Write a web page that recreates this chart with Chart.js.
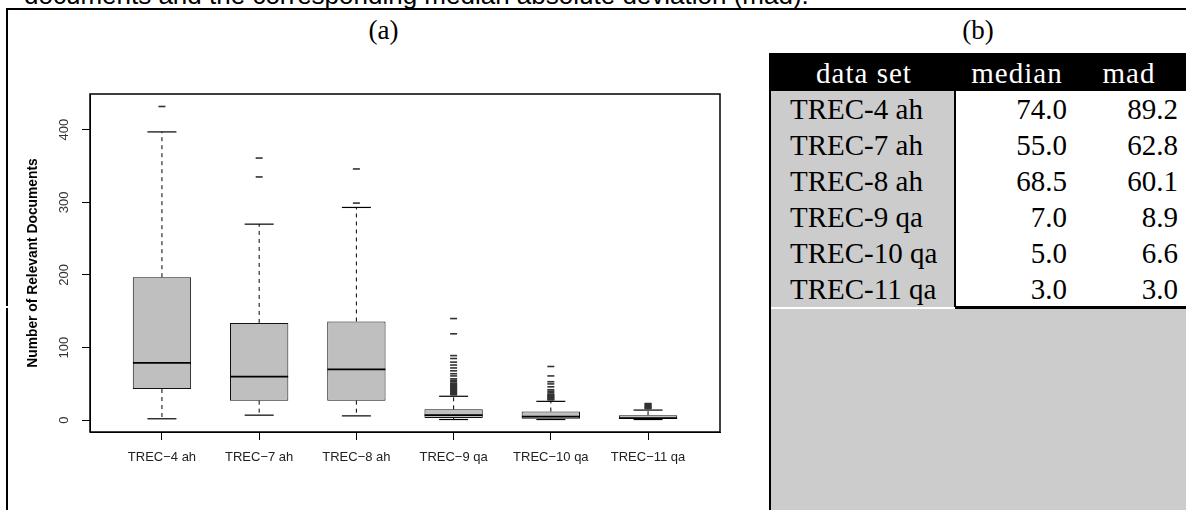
<!DOCTYPE html>
<html>
<head>
<meta charset="utf-8">
<script src="https://cdn.jsdelivr.net/npm/chart.js@4/dist/chart.umd.min.js"></script>
<style>
  html, body { margin:0; padding:0; background:#fff; }
  body { width:1186px; height:510px; position:relative; overflow:hidden; }
  .abs { position:absolute; }
  .serif { font-family:"Liberation Serif", "DejaVu Serif", serif; }
  #caption { left:24px; top:-20px; font-family:"Liberation Sans", Arial, sans-serif; font-size:26px; line-height:30px; white-space:nowrap; color:#000; }
  .cell { position:absolute; height:36px; line-height:36px; font-size:29px; white-space:nowrap; }
</style>
</head>
<body>
<script>
// ---------- data ----------
const categories   = ['TREC\u22124 ah', 'TREC\u22127 ah', 'TREC\u22128 ah', 'TREC\u22129 qa', 'TREC\u221210 qa', 'TREC\u221211 qa'];
const whiskerLow   = [2, 7, 6, 1, 1, 1];
const quartile1    = [43, 27, 27, 3, 2, 2];
const medians      = [79, 60, 70, 7, 5, 3];
const quartile3    = [197, 134, 136, 15, 12, 7];
const whiskerHigh  = [397, 270, 293, 33, 26, 14];
const outliers4    = [432];
const outliers7    = [335, 361];
const outliers8    = [299, 346];
const outliers9    = [35, 36, 37, 38, 39, 40, 41, 42, 43, 44, 45, 46, 47, 48, 49, 50, 51, 53, 55, 57, 61, 64, 68, 72, 76, 80, 85, 89, 119, 140];
const outliers10   = [28, 29, 30, 31, 32, 33, 34, 35, 36, 38, 40, 42, 46, 50, 53, 61, 74];
const outliers11   = [16, 17, 18, 19, 20, 21, 22, 23];
const yTicks       = [0, 100, 200, 300, 400];
const yAxisTitle   = 'Number of Relevant Documents';

const tableHeader  = ['data set', 'median', 'mad'];
const tableSets    = ['TREC-4 ah', 'TREC-7 ah', 'TREC-8 ah', 'TREC-9 qa', 'TREC-10 qa', 'TREC-11 qa'];
const tableMedian  = ['74.0', '55.0', '68.5', '7.0', '5.0', '3.0'];
const tableMad     = ['89.2', '62.8', '60.1', '8.9', '6.6', '3.0'];
const captionText  = 'documents and the corresponding median absolute deviation (mad).';
</script>

<div id="caption" class="abs"></div>
<!-- rules -->
<div class="abs" style="left:6px;top:8px;width:1180px;height:2px;background:#000"></div>
<div class="abs" style="left:6px;top:8px;width:2px;height:502px;background:#000"></div>
<div class="abs" style="left:6px;top:306px;width:2px;height:2px;background:#fff"></div>
<div class="abs serif" style="left:7px;width:753px;top:14px;text-align:center;font-size:27px;line-height:32px">(a)</div>
<div class="abs serif" style="left:770px;width:416px;top:14px;text-align:center;font-size:27px;line-height:32px">(b)</div>

<canvas id="c" width="760" height="510" class="abs" style="left:0;top:0;width:760px;height:510px"></canvas>

<!-- table (b) -->
<div id="tbl" class="serif"></div>

<script>
document.getElementById('caption').textContent = captionText;

// build table (b)
(function(){
  const tbl = document.getElementById('tbl');
  const add = (style, text, cls) => {
    const d = document.createElement('div');
    d.className = cls || 'abs';
    d.style.cssText = style;
    if (text !== undefined) d.textContent = text;
    tbl.appendChild(d);
    return d;
  };
  const top0 = 53, headH = 38, rowH = 36;
  const rowsTop = top0 + headH;
  add(`left:769px;top:${top0}px;width:417px;height:${headH}px;background:#000`);
  add(`left:771px;top:${rowsTop}px;width:184px;height:${rowH*tableSets.length}px;background:#cccccc`);
  const tblBottom = rowsTop + rowH*tableSets.length;
  add(`left:771px;top:${tblBottom+2}px;width:415px;height:${510-tblBottom-2}px;background:#cccccc`);
  add(`left:954px;top:${rowsTop}px;width:1.5px;height:${rowH*tableSets.length}px;background:#000`);
  add(`left:955px;top:${tblBottom-1}px;width:231px;height:2.5px;background:#000`);
  add(`left:769px;top:${top0}px;width:2px;height:${510-top0}px;background:#000`);
  const hc = [864, 1017, 1129];
  tableHeader.forEach((t,i)=>{
    add(`left:${hc[i]-100}px;width:200px;top:${top0+1}px;text-align:center;color:#fff;line-height:${headH}px;letter-spacing:1px`, t, 'cell');
  });
  tableSets.forEach((t,i)=>{
    const y = rowsTop + i*rowH;
    add(`left:790px;top:${y}px;color:#000`, t, 'cell');
    add(`left:${1067-150}px;width:150px;top:${y}px;text-align:right;color:#000`, tableMedian[i], 'cell');
    add(`left:${1178-150}px;width:150px;top:${y}px;text-align:right;color:#000`, tableMad[i], 'cell');
  });
})();

// ---------- chart (a) ----------
const outlierSets = [outliers4, outliers7, outliers8, outliers9, outliers10, outliers11];
const xs = categories.map((c,i)=>i+1);

const boxData = xs.map((x,i)=>({x:x, y:[quartile1[i], quartile3[i]]}));
const whiskerData = [];
xs.forEach((x,i)=>{
  whiskerData.push({x:x, y:quartile3[i]}, {x:x, y:whiskerHigh[i]}, {x:x, y:null});
  whiskerData.push({x:x, y:quartile1[i]}, {x:x, y:whiskerLow[i]}, {x:x, y:null});
});
const capData = [];
xs.forEach((x,i)=>{ capData.push({x:x, y:whiskerLow[i]}, {x:x, y:whiskerHigh[i]}); });
const medianData = xs.map((x,i)=>({x:x, y:medians[i]}));
const outlierData = [];
xs.forEach((x,i)=>{ outlierSets[i].forEach(v=>outlierData.push({x:x, y:v})); });

const framePlugin = {
  id:'frame',
  afterDraw(chart){
    const {ctx, chartArea:a} = chart;
    ctx.save();
    ctx.strokeStyle = '#000';
    ctx.lineWidth = 1.5;
    ctx.strokeRect(a.left, a.top, a.right - a.left, a.bottom - a.top);
    ctx.restore();
  }
};

Chart.defaults.font.family = '"Liberation Sans", Arial, sans-serif';
Chart.defaults.color = '#222';

new Chart(document.getElementById('c'), {
  type:'bar',
  data:{
    datasets:[
      { type:'bar', data:boxData, backgroundColor:'#bfbfbf', borderColor:'#111', borderWidth:1,
        borderSkipped:false, barPercentage:0.6, categoryPercentage:1, order:5 },
      { type:'line', data:whiskerData, borderColor:'#000', borderWidth:1, borderDash:[4,4],
        pointRadius:0, spanGaps:false, fill:false, order:4 },
      { type:'scatter', data:capData, pointStyle:'line', pointRadius:14.5, borderColor:'#000',
        borderWidth:1.2, order:3 },
      { type:'scatter', data:outlierData, pointStyle:'line', pointRadius:3.5, borderColor:'#333',
        borderWidth:1.6, order:2 },
      { type:'scatter', data:medianData, pointStyle:'line', pointRadius:29, borderColor:'#000',
        borderWidth:1.7, order:1 }
    ]
  },
  options:{
    responsive:false,
    animation:false,
    devicePixelRatio:1,
    events:[],
    layout:{ padding:{ left:0, top:94, right:40, bottom:0 } },
    plugins:{ legend:{display:false}, tooltip:{enabled:false} },
    scales:{
      x:{
        type:'linear', min:0.26, max:6.74, offset:false,
        grid:{ display:true, drawOnChartArea:false, drawTicks:true, tickLength:8, color:'#000', offset:false },
        border:{ display:true, color:'#000', width:1 },
        ticks:{ font:{size:13}, color:'#222', padding:10, maxRotation:0, autoSkip:false,
                callback:(v)=>categories[Math.round(v)-1] },
        afterBuildTicks:(s)=>{ s.ticks = xs.map(v=>({value:v})); },
        afterFit:(s)=>{ s.height = 78; }
      },
      y:{
        type:'linear', min:-16.2, max:449.2,
        grid:{ display:true, drawOnChartArea:false, drawTicks:true, tickLength:8, color:'#000' },
        border:{ display:true, color:'#000', width:1 },
        ticks:{ font:{size:13}, color:'#333', padding:7, minRotation:90, maxRotation:90, crossAlign:'center' },
        afterBuildTicks:(s)=>{ s.ticks = yTicks.map(v=>({value:v})); },
        title:{ display:true, text:yAxisTitle, font:{size:13.8, weight:'bold'}, color:'#000', padding:{top:25, bottom:0} },
        afterFit:(s)=>{ s.width = 90; }
      }
    }
  },
  plugins:[framePlugin]
});
</script>
</body>
</html>
